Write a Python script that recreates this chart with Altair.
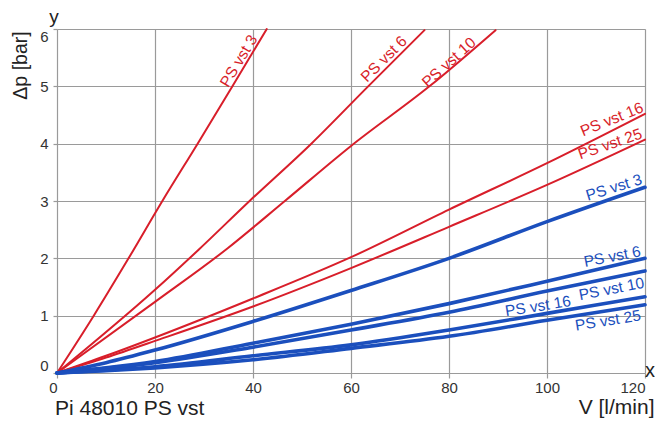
import altair as alt
import pandas as pd

# ---------------- data ----------------
x_ticks = [0, 20, 40, 60, 80, 100, 120]
y_ticks = [0, 1, 2, 3, 4, 5, 6]

# red family (steep curves given by their crossing points)
r3_x = [0, 7.5, 14.6, 21.5, 28.7, 35.8, 42.8]
r3_y = [0, 1.0, 2.0, 3.0, 4.0, 5.0, 6.0]
r6_x = [0, 20, 28.9, 39.3, 51.9, 63.5, 75.0]
r6_y = [0, 1.45, 2.15, 3.0, 4.0, 5.0, 5.98]
r10_x = [0, 20, 34.9, 46.5, 60.0, 76.0, 89.5]
r10_y = [0, 1.24, 2.18, 3.0, 3.96, 5.0, 5.98]

# flatter curves sampled on a common flow grid
flow = [0, 10, 20, 40, 60, 80, 100, 120]
r16_y = [0, 0.30, 0.62, 1.30, 2.02, 2.85, 3.66, 4.52]
r25_y = [0, 0.27, 0.56, 1.16, 1.83, 2.55, 3.28, 4.07]
b3_y = [0, 0.18, 0.40, 0.90, 1.44, 2.00, 2.64, 3.24]
b6_y = [0, 0.09, 0.20, 0.52, 0.85, 1.21, 1.60, 2.00]
b10_y = [0, 0.08, 0.18, 0.45, 0.75, 1.06, 1.43, 1.78]
b16_y = [0, 0.05, 0.11, 0.30, 0.49, 0.75, 1.04, 1.33]
b25_y = [0, 0.04, 0.09, 0.23, 0.43, 0.64, 0.92, 1.19]

# curve labels
label_text = ["PS vst 3", "PS vst 6", "PS vst 10", "PS vst 16", "PS vst 25",
              "PS vst 3", "PS vst 6", "PS vst 10", "PS vst 16", "PS vst 25"]
label_group = ["red"] * 5 + ["blue"] * 5
label_x = [41.0, 71.6, 85.7, 119.9, 119.6, 119.6, 119.3, 120.0, 105.0, 119.3]
label_y = [5.83, 5.77, 5.74, 4.56, 4.10, 3.30, 2.04, 1.49, 1.17, 0.92]
label_angle = [301, 315, 318, 338, 341, 343, 349, 349, 351, 351]

# ---------------- tables ----------------
rows = []
def add(name, group, xs, ys):
    for xv, yv in zip(xs, ys):
        rows.append({"series": name, "group": group, "x": xv, "y": yv})

add("r3", "red", r3_x, r3_y)
add("r6", "red", r6_x, r6_y)
add("r10", "red", r10_x, r10_y)
add("r16", "red", flow, r16_y)
add("r25", "red", flow, r25_y)
add("b3", "blue", flow, b3_y)
add("b6", "blue", flow, b6_y)
add("b10", "blue", flow, b10_y)
add("b16", "blue", flow, b16_y)
add("b25", "blue", flow, b25_y)
df = pd.DataFrame(rows)
df_red = df[df.group == "red"]
df_blue = df[df.group == "blue"]

labels = pd.DataFrame({"text": label_text, "group": label_group,
                       "x": label_x, "y": label_y, "angle": label_angle})

RED = "#d81e2a"
BLUE = "#1b4fbd"
GRID = "#9a9a9a"
TXT = "#222222"

color_scale = alt.Scale(domain=["red", "blue"], range=[RED, BLUE])
width_scale = alt.Scale(domain=["red", "blue"], range=[2.0, 3.6])

x_axis = alt.Axis(
    values=x_ticks, grid=True, gridColor=GRID, gridWidth=1.2,
    tickColor=GRID, tickSize=5, tickWidth=1.2, domain=False,
    labelFontSize=15, labelColor="#333", labelPadding=2, labelFlush=False,
    labelAlign={"condition": {"test": "datum.value == 0 || datum.value == 120", "value": "right"},
                "value": "center"},
    title="V [l/min]", titleX=597, titleY=40, titleAlign="right",
    titleBaseline="alphabetic", titleAngle=0, titleFontSize=21,
    titleFontWeight="normal", titleColor=TXT,
)
y_axis = alt.Axis(
    values=y_ticks, grid=True, gridColor=GRID, gridWidth=1.2,
    tickColor=GRID, tickSize=4, tickWidth=1.2, domain=False,
    labelFontSize=15, labelColor="#333", labelPadding=5, labelFlush=True,
    title="Δp [bar]", titleX=-31, titleY=36, titleAlign="center",
    titleBaseline="alphabetic", titleAngle=270, titleFontSize=19.5,
    titleFontWeight="normal", titleColor=TXT,
)

X = alt.X("x:Q", scale=alt.Scale(domain=[0, 120], nice=False), axis=x_axis)
Y = alt.Y("y:Q", scale=alt.Scale(domain=[0, 6], nice=False), axis=y_axis)

def lines(data):
    return alt.Chart(data).mark_line(interpolate="monotone", strokeCap="round").encode(
        x=X, y=Y, detail="series:N",
        color=alt.Color("group:N", scale=color_scale, legend=None),
        strokeWidth=alt.StrokeWidth("group:N", scale=width_scale, legend=None),
    )

label_layer = alt.Chart(labels).mark_text(
    align="right", baseline="alphabetic", fontSize=15.5
).encode(
    x=X, y=Y, text="text:N",
    angle=alt.Angle("angle:Q", scale=None),
    color=alt.Color("group:N", scale=color_scale, legend=None),
)

one = alt.Data(values=[{}])
y_letter = alt.Chart(one).mark_text(text="y", fontSize=19, align="center",
                                    baseline="alphabetic", color=TXT).encode(
    x=alt.value(-3), y=alt.value(-6))
x_letter = alt.Chart(one).mark_text(text="x", fontSize=20, align="center",
                                    baseline="alphabetic", color=TXT).encode(
    x=alt.value(593), y=alt.value(348))
caption = alt.Chart(one).mark_text(text="Pi 48010 PS vst", fontSize=21, align="left",
                                   baseline="alphabetic", color=TXT).encode(
    x=alt.value(-2), y=alt.value(386))

chart = alt.layer(
    lines(df_red), lines(df_blue), label_layer, y_letter, x_letter, caption
).properties(
    width=588, height=344,
    padding={"left": 49, "top": 21, "right": 10, "bottom": 45},
    autosize=alt.AutoSizeParams(type="none"),
).configure_view(strokeWidth=0).configure(font="Liberation Sans")

chart.save("out.html", embed_options={"renderer": "svg", "actions": False})
